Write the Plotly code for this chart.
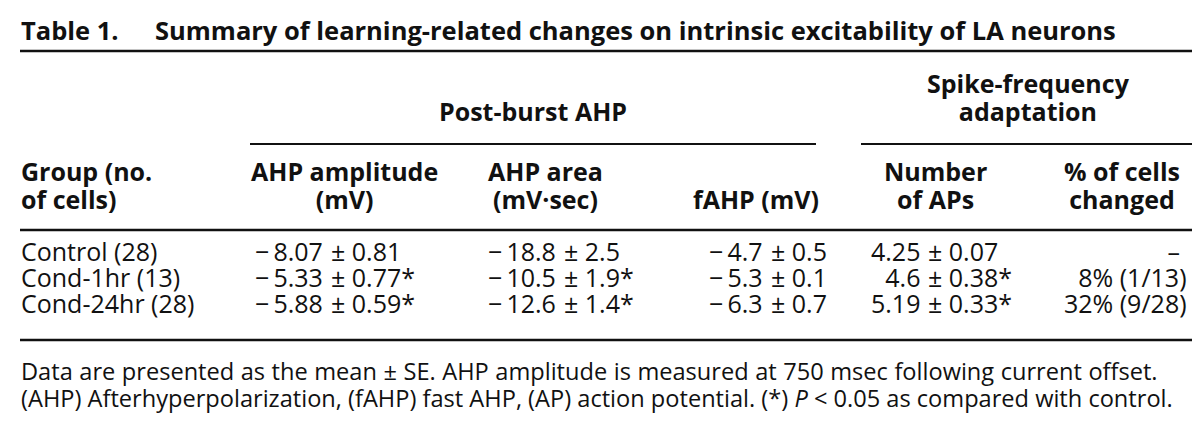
import plotly.graph_objects as go

# ---------------- data ----------------
groups = ["Control (28)", "Cond-1hr (13)", "Cond-24hr (28)"]
ahp_amp_mean = [-8.07, -5.33, -5.88]
ahp_amp_se = [0.81, 0.77, 0.59]
ahp_amp_sig = [False, True, True]
ahp_area_mean = [-18.8, -10.5, -12.6]
ahp_area_se = [2.5, 1.9, 1.4]
ahp_area_sig = [False, True, True]
fahp_mean = [-4.7, -5.3, -6.3]
fahp_se = [0.5, 0.1, 0.7]
fahp_sig = [False, False, False]
n_aps_mean = [4.25, 4.6, 5.19]
n_aps_se = [0.07, 0.38, 0.33]
n_aps_sig = [False, True, True]
pct_changed = [None, 8, 32]
n_changed = [None, 1, 9]
n_total = [28, 13, 28]

title_label = "Table 1."
title_text = "Summary of learning-related changes on intrinsic excitability of LA neurons"
spanner_labels = [["Post-burst AHP"], ["Spike-frequency", "adaptation"]]
header_labels = [["Group (no.", "of cells)"], ["AHP amplitude", "(mV)"], ["AHP area", "(mV·sec)"],
                 ["fAHP (mV)"], ["Number", "of APs"], ["% of cells", "changed"]]
foot_lines = ["Data are presented as the mean ± SE. AHP amplitude is measured at 750 msec following current offset.",
              "(AHP) Afterhyperpolarization, (fAHP) fast AHP, (AP) action potential. (*) <i>P</i> &lt; 0.05 as compared with control."]

# ---------------- layout / style ----------------
W, H = 1200, 429
FONT = "Open Sans"
INK = "#111111"
BODY = 25
HEAD = 25
TITLE = 25.5
FOOT = 23.6
ROW_PITCH = 26
HEAD_PITCH = 28
FOOT_PITCH = 27

fig = go.Figure()
fig.add_trace(go.Scatter(x=[], y=[], mode="markers", showlegend=False))

anns = []
def block(x, y, lines, size, pitch, anchor="left", bold=False, styles=None):
    """One annotation holding several lines; line pitch set via outer font size."""
    outer = pitch / 1.3
    parts = []
    for k, s in enumerate(lines):
        if bold:
            s = "<b>" + s + "</b>"
        st = f"font-size:{size}px"
        if styles and styles[k]:
            st += ";" + styles[k]
        parts.append(f'<span style="{st}">{s}</span>')
    anns.append(dict(x=x, y=y, xref="x", yref="y", text="<br>".join(parts), showarrow=False,
                     xanchor=anchor, yanchor="middle",
                     align="center" if anchor == "center" else anchor,
                     borderpad=0,
                     font=dict(family=FONT, size=outer, color=INK)))

shapes = []
def rule(x0, x1, y, w=2):
    shapes.append(dict(type="line", xref="x", yref="y", x0=x0, x1=x1, y0=y, y1=y,
                       line=dict(color=INK, width=w)))

# title
block(12, 22, [title_label], TITLE, ROW_PITCH, bold=True)
block(146, 22, [title_text], TITLE, ROW_PITCH, bold=True)
rule(12, 1187, 43, 2.5)

# spanners
block(525, 103, spanner_labels[0], HEAD, HEAD_PITCH, anchor="center", bold=True)
block(1020, 89, spanner_labels[1], HEAD, HEAD_PITCH, anchor="center", bold=True)
rule(242, 808, 136, 2)
rule(853, 1187, 136, 2)

# column headers
hdr_x = [12, 336, 537, 748, 927, 1114]
hdr_anchor = ["left", "center", "center", "center", "center", "center"]
for lbl, x, a in zip(header_labels, hdr_x, hdr_anchor):
    yc = 177 if len(lbl) == 2 else 191
    block(x, yc, lbl, HEAD, HEAD_PITCH, anchor=a, bold=True)
rule(12, 1187, 222, 2.5)

# body rows: one text block per column part, rows separated by line breaks
row_mid = 269
pm_x = [322, 555, 762, 919]
GAP = 6

def fmt_mean(v):
    s = f"{abs(v):g}"
    return ("\u2212\u2009" + s) if v < 0 else s

cols = [(ahp_amp_mean, ahp_amp_se, ahp_amp_sig),
        (ahp_area_mean, ahp_area_se, ahp_area_sig),
        (fahp_mean, fahp_se, fahp_sig),
        (n_aps_mean, n_aps_se, n_aps_sig)]

block(12, row_mid, groups, BODY, ROW_PITCH)
for (means, ses, sigs), px in zip(cols, pm_x):
    block(px - GAP, row_mid, [fmt_mean(m) for m in means], BODY, ROW_PITCH, anchor="right")
    block(px, row_mid, [f"± {s:g}" + ("*" if g else "") for s, g in zip(ses, sigs)],
          BODY, ROW_PITCH, anchor="left")
last_col = []
for p, c, t in zip(pct_changed, n_changed, n_total):
    last_col.append("–\u2009\u200a" if p is None else f"{p}% ({c}/{t})")
block(1180, row_mid, last_col, BODY, ROW_PITCH, anchor="right")

rule(12, 1187, 332, 2.5)

# footnotes (first line justified to full width)
block(12, 376, foot_lines, FOOT, FOOT_PITCH, styles=["word-spacing:0.4px", ""])

fig.update_layout(
    width=W, height=H, margin=dict(l=0, r=0, t=0, b=0),
    paper_bgcolor="white", plot_bgcolor="white",
    xaxis=dict(range=[0, W], visible=False, fixedrange=True),
    yaxis=dict(range=[H, 0], visible=False, fixedrange=True),
    annotations=anns, shapes=shapes, showlegend=False,
)
fig.write_html("out.html")
